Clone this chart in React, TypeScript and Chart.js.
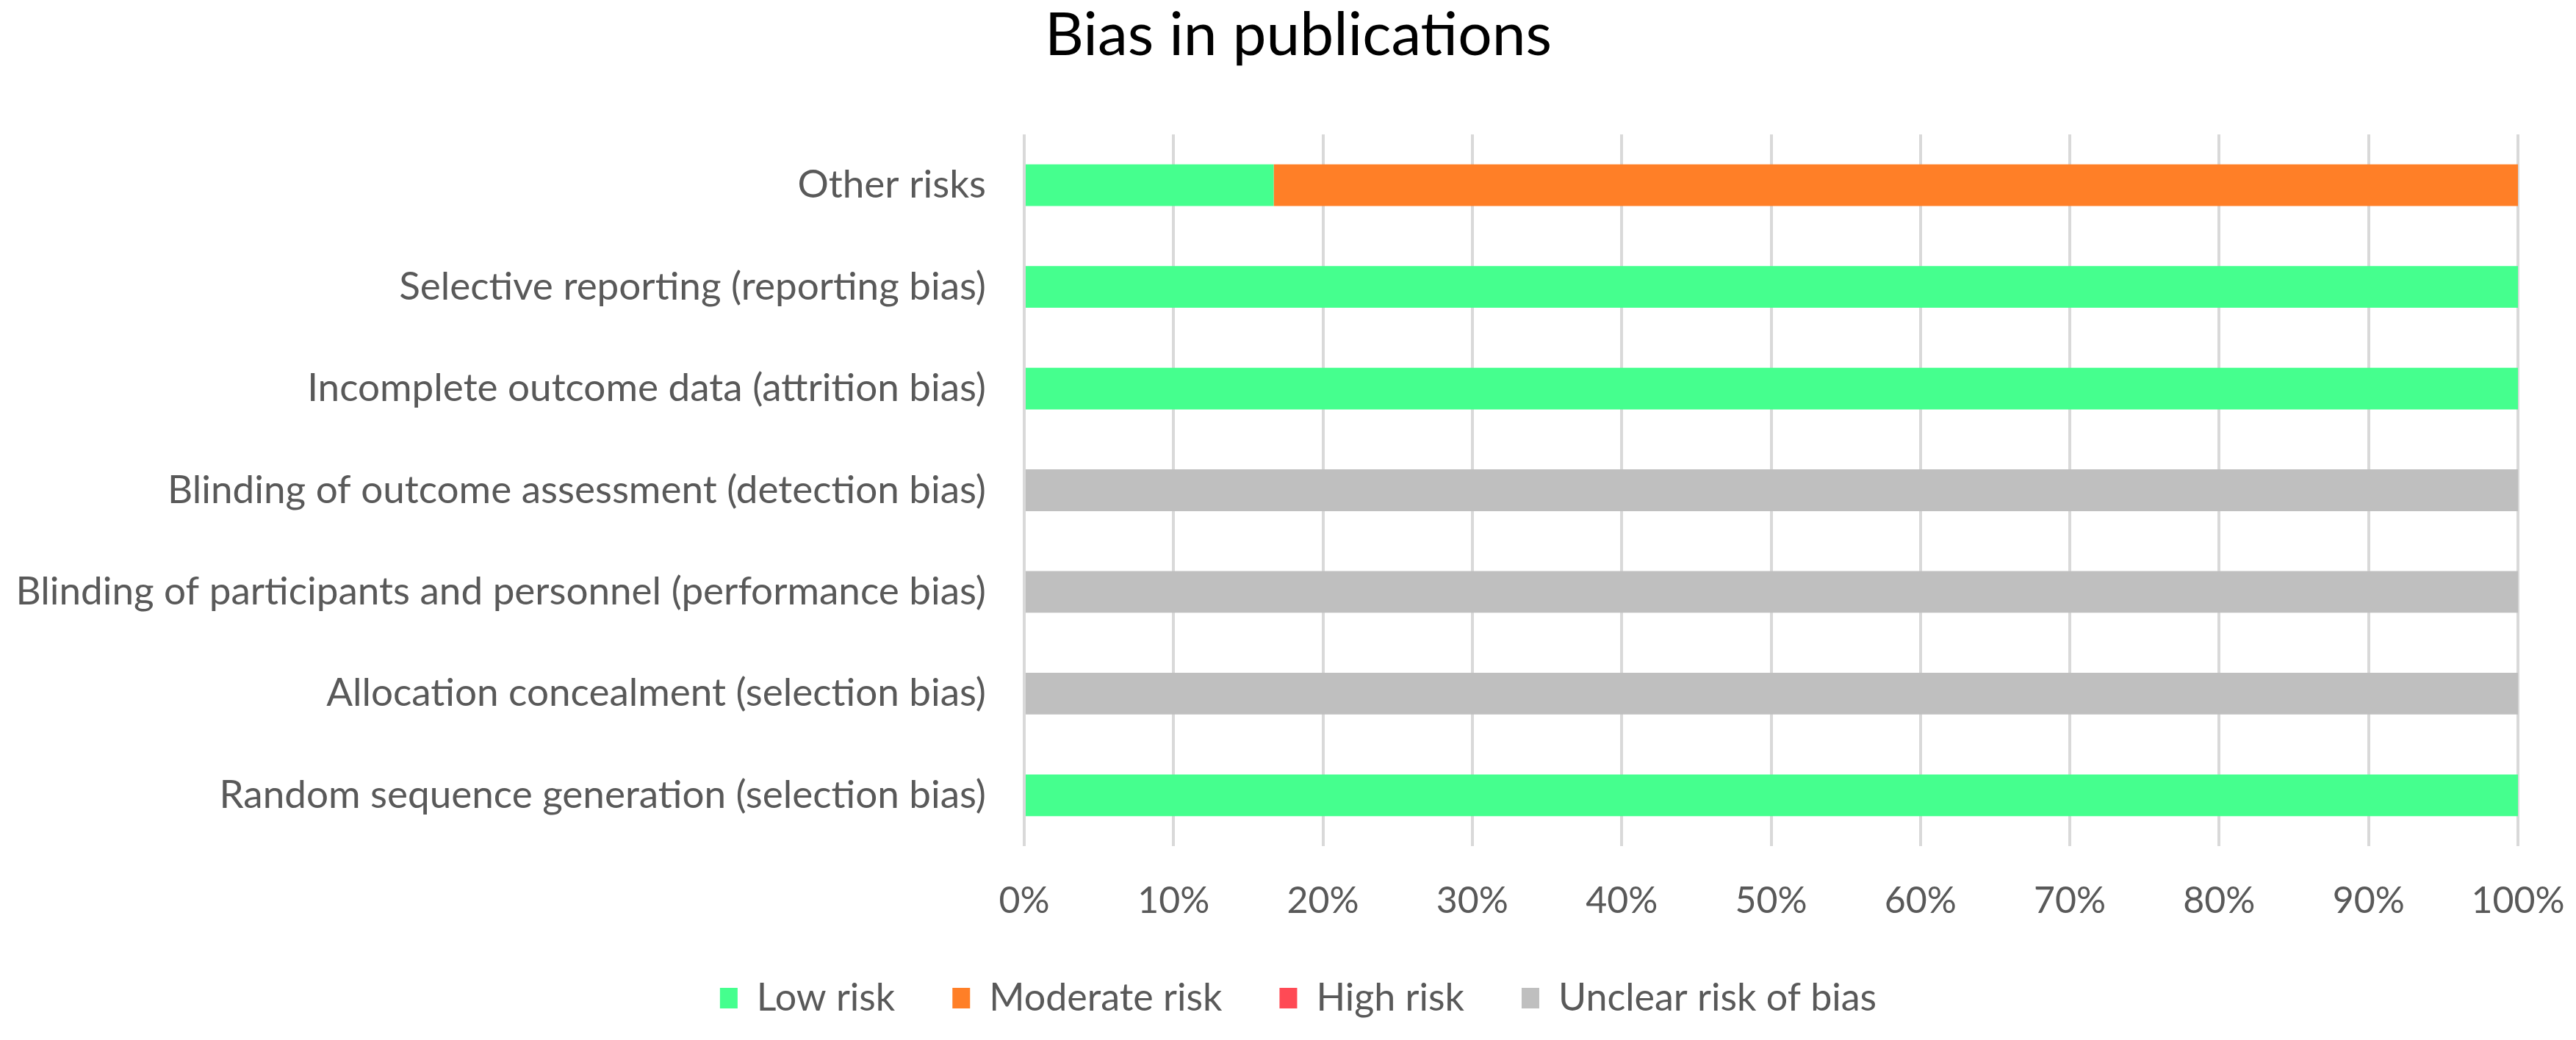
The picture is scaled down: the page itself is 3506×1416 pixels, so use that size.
import React, { useEffect, useRef } from "react";
import { Chart, registerables } from "chart.js";

Chart.register(...registerables);

const categories = [
  "Other risks",
  "Selective reporting (reporting bias)",
  "Incomplete outcome data (attrition bias)",
  "Blinding of outcome assessment (detection bias)",
  "Blinding of participants and personnel (performance bias)",
  "Allocation concealment (selection bias)",
  "Random sequence generation (selection bias)",
];

const lowRisk = [16.7, 100, 100, 0, 0, 0, 100];
const moderateRisk = [83.3, 0, 0, 0, 0, 0, 0];
const highRisk = [0, 0, 0, 0, 0, 0, 0];
const unclearRisk = [0, 0, 0, 100, 100, 100, 0];

const xTickValues = [0, 10, 20, 30, 40, 50, 60, 70, 80, 90, 100];

const seriesNames = ["Low risk", "Moderate risk", "High risk", "Unclear risk of bias"];
const seriesColors = ["#45FF8E", "#FF7F27", "#FF4A55", "#BFBFBF"];

const FONT = "Lato, 'Open Sans', sans-serif";
const Y_FONT_SIZE = 53;

export default function App() {
  const ref = useRef<HTMLCanvasElement | null>(null);

  useEffect(() => {
    if (!ref.current) return;
    const values = [lowRisk, moderateRisk, highRisk, unclearRisk];

    // measure the widest category label so the mirrored labels sit left of the axis
    const mctx = document.createElement("canvas").getContext("2d") as CanvasRenderingContext2D;
    mctx.font = `normal ${Y_FONT_SIZE}px ${FONT}`;
    const widest = Math.max(...categories.map((c) => mctx.measureText(c).width));
    const labelGap = 52;

    const chart = new Chart(ref.current, {
      type: "bar",
      data: {
        labels: categories,
        datasets: seriesNames.map((name, i) => ({
          label: name,
          data: values[i],
          backgroundColor: seriesColors[i],
          borderWidth: 0,
          categoryPercentage: 1,
          barPercentage: 0.41,
        })),
      },
      options: {
        indexAxis: "y",
        animation: false,
        responsive: true,
        maintainAspectRatio: false,
        layout: { padding: { left: 99, right: 71, top: 0, bottom: 13 } },
        plugins: {
          title: {
            display: true,
            text: "Bias in publications",
            color: "#000000",
            font: { family: FONT, size: 82, weight: "normal", lineHeight: 1 },
            padding: { top: 0, bottom: 93 },
          },
          legend: {
            position: "bottom",
            labels: {
              color: "#595959",
              font: { family: FONT, size: 52 },
              boxWidth: 24,
              boxHeight: 28,
              padding: 78,
            },
          },
          tooltip: { enabled: false },
        },
        scales: {
          x: {
            stacked: true,
            min: 0,
            max: 100,
            afterBuildTicks: (scale: any) => {
              scale.ticks = xTickValues.map((v) => ({ value: v }));
            },
            ticks: {
              color: "#595959",
              font: { family: FONT, size: 50 },
              padding: 5,
              callback: (v: any) => v + "%",
            },
            grid: {
              color: "#D9D9D9",
              lineWidth: 4,
              drawTicks: true,
              tickLength: 40,
              tickColor: "rgba(0,0,0,0)",
            },
            border: { display: false },
            afterFit: (scale: any) => {
              scale.height = scale.height - 7;
            },
          },
          y: {
            stacked: true,
            ticks: {
              color: "#595959",
              font: { family: FONT, size: Y_FONT_SIZE },
              mirror: true,
              crossAlign: "far",
              padding: -(widest + labelGap),
            },
            grid: { display: false, drawTicks: false },
            border: { display: false },
            afterFit: (scale: any) => {
              scale.width = 1287;
            },
          },
        },
      },
    });
    return () => chart.destroy();
  }, []);

  return (
    <div style={{ width: 3490, height: 1400, position: "relative" }}>
      <canvas ref={ref} />
    </div>
  );
}
